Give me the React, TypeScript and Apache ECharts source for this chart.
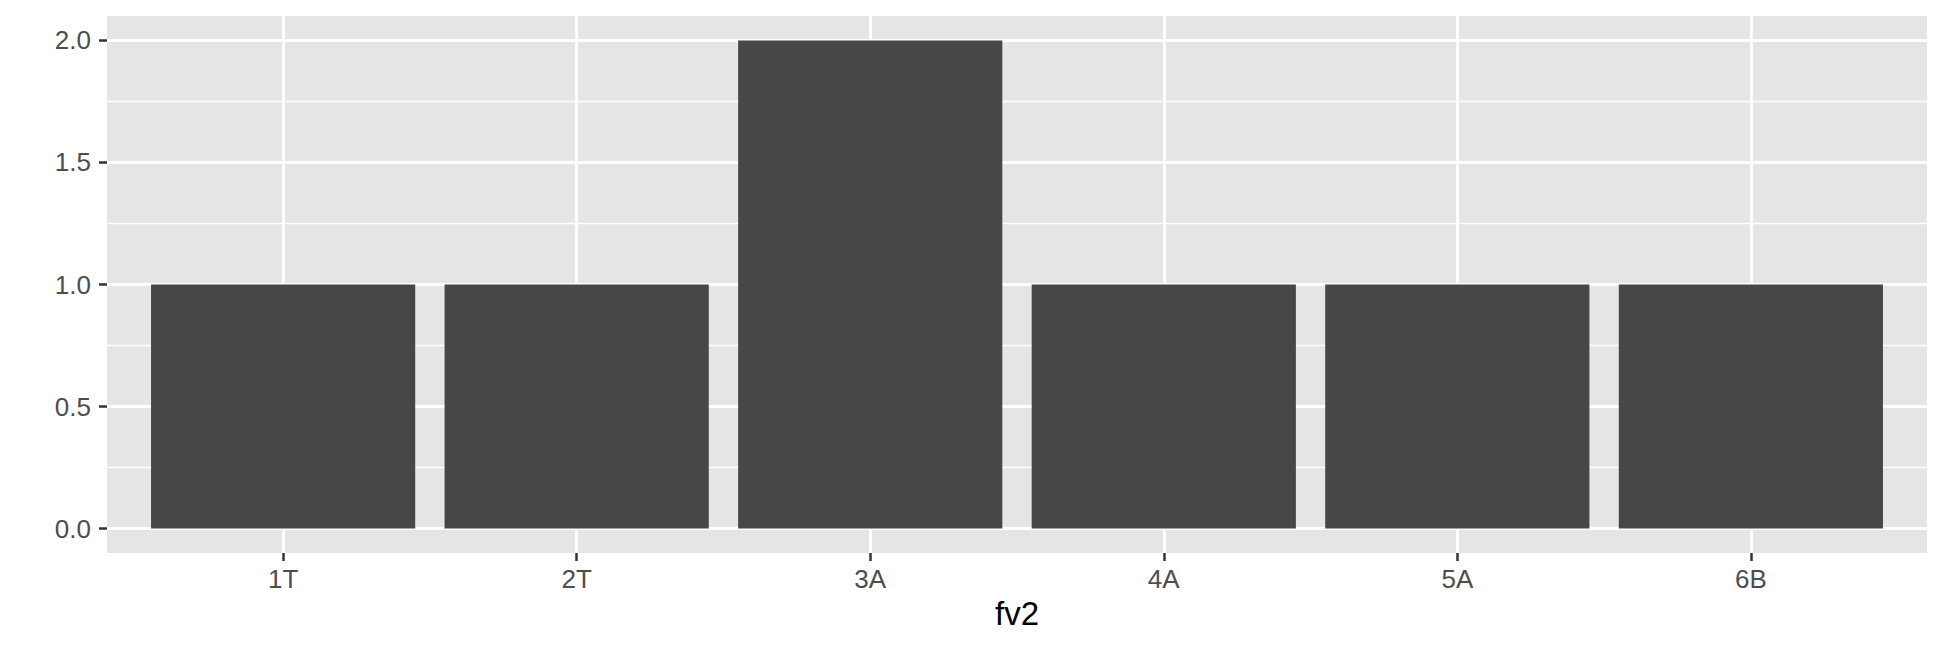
import React, { useEffect, useRef } from "react";
import * as echarts from "echarts";

const categories = ["1T", "2T", "3A", "4A", "5A", "6B"];
const counts = [1, 1, 2, 1, 1, 1];
const yMajorTicks = [0, 0.5, 1, 1.5, 2];
const yMinorTicks = [0.25, 0.75, 1.25, 1.75];
const xTitle = "fv2";

export default function App() {
  const ref = useRef<HTMLDivElement>(null);
  useEffect(() => {
    if (!ref.current) return;
    const chart = echarts.init(ref.current, null, { renderer: "svg" });
    const xPositions = categories.map((_, i) => i + 1);
    const font = "Liberation Sans, Arial, Helvetica, sans-serif";
    chart.setOption({
      animation: false,
      backgroundColor: "#ffffff",
      grid: {
        left: 107,
        top: 16,
        width: 1820,
        height: 537,
        show: true,
        backgroundColor: "#E5E5E5",
        borderWidth: 0,
      },
      xAxis: {
        type: "value",
        min: 0.4,
        max: categories.length + 0.6,
        position: "bottom",
        name: xTitle,
        nameLocation: "middle",
        nameGap: 44,
        nameTextStyle: { fontFamily: font, fontSize: 33, color: "#000000" },
        axisLine: { show: false, onZero: false },
        axisTick: {
          show: true,
          customValues: xPositions,
          length: 8,
          lineStyle: { color: "#333333", width: 2.5 },
        },
        axisLabel: {
          customValues: xPositions,
          margin: 13,
          fontFamily: font,
          fontSize: 26,
          color: "#4D4D4D",
          formatter: (v: number) => categories[Math.round(v) - 1] ?? "",
        },
        splitLine: { show: true, lineStyle: { color: "#ffffff", width: 2.8 } },
      },
      yAxis: [
        {
          type: "value",
          min: -0.1,
          max: 2.1,
          axisLine: { show: false, onZero: false },
          axisTick: {
            show: true,
            customValues: yMajorTicks,
            length: 8,
            lineStyle: { color: "#333333", width: 2.5 },
          },
          axisLabel: {
            customValues: yMajorTicks,
            margin: 16,
            fontFamily: font,
            fontSize: 26,
            color: "#4D4D4D",
            formatter: (v: number) => v.toFixed(1),
          },
          splitLine: { show: true, lineStyle: { color: "#ffffff", width: 2.8 } },
        },
        {
          type: "value",
          min: -0.1,
          max: 2.1,
          position: "left",
          axisLine: { show: false, onZero: false },
          axisTick: { show: false, customValues: yMinorTicks },
          axisLabel: { show: false, customValues: yMinorTicks },
          splitLine: { show: true, lineStyle: { color: "#ffffff", width: 1.4 } },
        },
      ],
      series: [
        {
          type: "bar",
          yAxisIndex: 0,
          barWidth: "90%",
          itemStyle: { color: "#474747" },
          data: counts.map((c, i) => [xPositions[i], c]),
          z: 3,
        },
      ],
    });
    return () => chart.dispose();
  }, []);
  return (
    <div
      ref={ref}
      style={{ position: "absolute", left: 0, top: 0, width: 1944, height: 648 }}
    />
  );
}
